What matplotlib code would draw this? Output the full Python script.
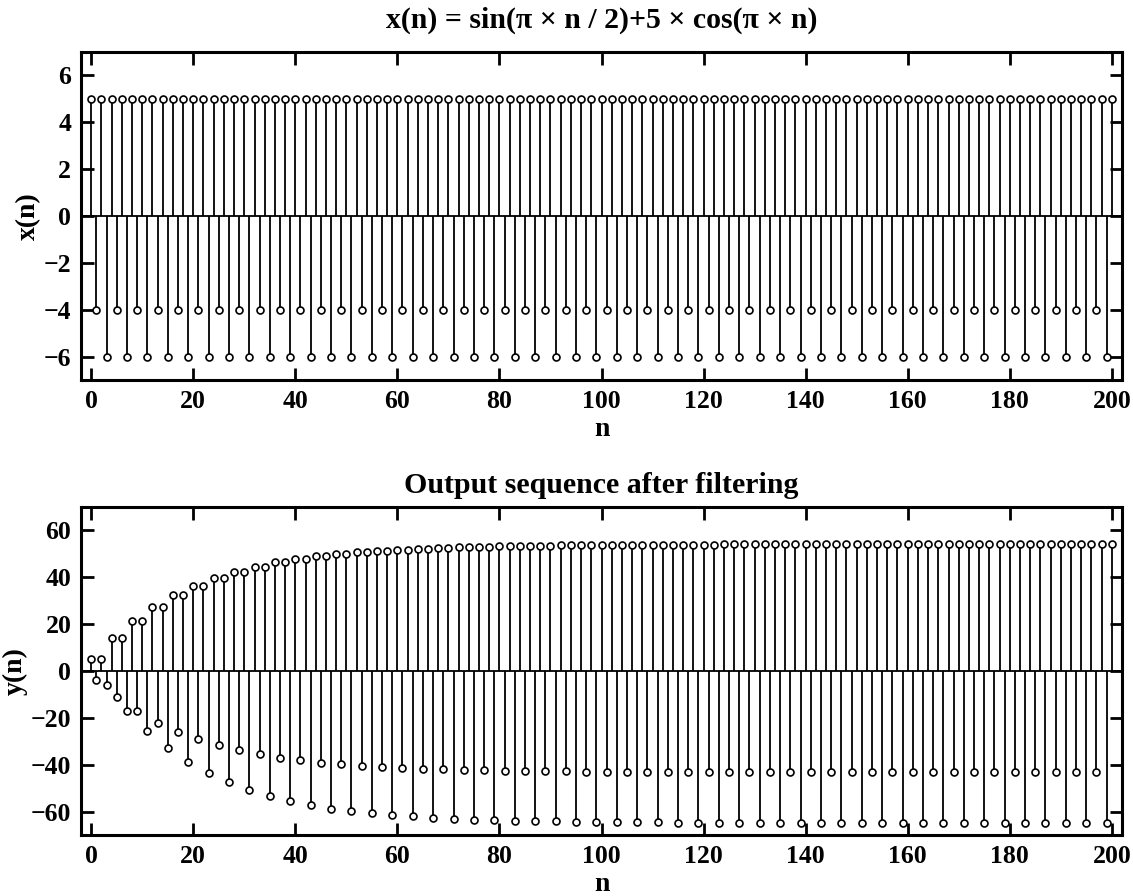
import numpy as np
import matplotlib
matplotlib.use("Agg")
import matplotlib.pyplot as plt

plt.rcParams['font.family'] = ['Liberation Serif', 'DejaVu Serif']
plt.rcParams['font.weight'] = 'bold'
plt.rcParams['axes.labelweight'] = 'bold'
plt.rcParams['axes.titleweight'] = 'bold'

# sample index
n = np.arange(0, 201)

# input sequence levels (repeats every 4 samples)
x_pattern = [5, -4, 5, -6]

# output sequence
# y at n = 4k and 4k+2 (k = 0..50)
y_pos = [5.0, 14.1, 21.5, 27.5, 32.4, 36.4, 39.7, 42.3, 44.5, 46.3,
         47.7, 48.9, 49.8, 50.6, 51.3, 51.8, 52.2, 52.5, 52.8, 53.0,
         53.2, 53.4, 53.5, 53.6, 53.7, 53.8, 53.8, 53.9, 53.9, 53.9,
         53.9, 54.0, 54.0, 54.0, 54.0, 54.0, 54.0, 54.0, 54.0, 54.0,
         54.0, 54.0, 54.0, 54.0, 54.0, 54.0, 54.0, 54.0, 54.0, 54.0,
         54.0]
# y at n = 4k+1 (k = 0..49)
y_neg_a = [-4.0, -11.3, -17.2, -22.0, -25.9, -29.1, -31.7, -33.9, -35.6, -37.0,
           -38.2, -39.1, -39.9, -40.5, -41.0, -41.4, -41.8, -42.0, -42.3, -42.4,
           -42.6, -42.7, -42.8, -42.9, -43.0, -43.0, -43.0, -43.1, -43.1, -43.1,
           -43.1, -43.1, -43.2, -43.2, -43.2, -43.2, -43.2, -43.2, -43.2, -43.2,
           -43.2, -43.2, -43.2, -43.2, -43.2, -43.2, -43.2, -43.2, -43.2, -43.2]
# y at n = 4k+3 (k = 0..49)
y_neg_b = [-6.0, -16.9, -25.8, -33.0, -38.9, -43.7, -47.6, -50.8, -53.4, -55.5,
           -57.3, -58.7, -59.8, -60.7, -61.5, -62.1, -62.6, -63.0, -63.4, -63.7,
           -63.9, -64.1, -64.2, -64.3, -64.4, -64.5, -64.6, -64.6, -64.7, -64.7,
           -64.7, -64.8, -64.8, -64.8, -64.8, -64.8, -64.8, -64.8, -64.8, -64.8,
           -64.8, -64.8, -64.8, -64.8, -64.8, -64.8, -64.8, -64.8, -64.8, -64.8]

x = np.array([x_pattern[i % 4] for i in n], dtype=float)

y = np.zeros(len(n))
for k, v in enumerate(y_pos):
    y[4 * k] = v
    if 4 * k + 2 < len(n):
        y[4 * k + 2] = v
for k, v in enumerate(y_neg_a):
    y[4 * k + 1] = v
for k, v in enumerate(y_neg_b):
    y[4 * k + 3] = v


def stem_panel(ax, n, vals, ylim, yticks, ylabel, title, title_pad):
    ml, sl, bl = ax.stem(n, vals, linefmt='k-', markerfmt='o', basefmt=' ')
    plt.setp(sl, linewidth=1.3, color='black')
    plt.setp(ml, markersize=5, markerfacecolor='white',
             markeredgecolor='black', markeredgewidth=1.2)
    ax.axhline(0, color='black', linewidth=1.3, zorder=1)
    ax.set_xlim(-2, 202)
    ax.set_ylim(*ylim)
    ax.set_xticks(np.arange(0, 201, 20))
    ax.set_yticks(yticks)
    ax.tick_params(direction='in', top=True, right=True, length=9,
                   width=2, labelsize=18.5, pad=7)
    for s in ax.spines.values():
        s.set_linewidth(2.2)
    ax.set_xlabel('n', fontsize=20, labelpad=3)
    ax.set_ylabel(ylabel, fontsize=20, labelpad=2)
    ax.set_title(title, fontsize=21.5, pad=title_pad)


fig = plt.figure(figsize=(11.33, 8.96), dpi=100)
ax1 = fig.add_axes([0.0715, 0.5759, 0.9188, 0.3661])
ax2 = fig.add_axes([0.0715, 0.0681, 0.9188, 0.3661])

stem_panel(ax1, n, x, (-7, 7), np.arange(-6, 7, 2), 'x(n)',
           'x(n) = sin(\u03c0 \u00d7 n / 2)+5 \u00d7 cos(\u03c0 \u00d7 n)', 17.5)
stem_panel(ax2, n, y, (-70, 70), np.arange(-60, 61, 20), 'y(n)',
           'Output sequence after filtering', 10)

fig.savefig('out.png', dpi=100)
